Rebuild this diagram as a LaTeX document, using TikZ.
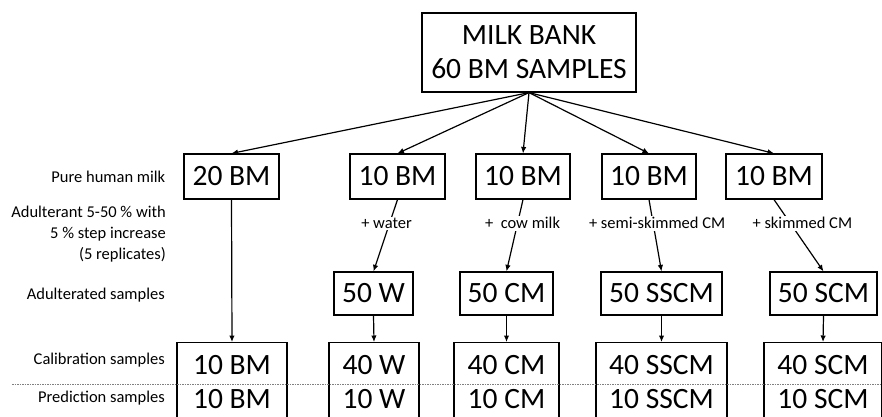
\documentclass[tikz,border=0pt]{standalone}
\usepackage{fontspec}
\setmainfont{Carlito}
\usetikzlibrary{positioning, arrows.meta}
\tikzset{%
  box/.style={draw, line width=1.2pt, inner sep=0pt, align=center,
    font=\fontsize{29.5}{35}\selectfont}, % the sample boxes
  rowlbl/.style={anchor=east, inner sep=0pt, align=right,
    font=\fontsize{16.5}{21}\selectfont},
  addlbl/.style={fill=white, inner sep=1.5pt, font=\fontsize{16.5}{20}\selectfont},
  arr/.style={-{Latex[length=6.5pt,width=5.5pt]}, line width=1.2pt},
  sepline/.style={draw=gray, line width=0.6pt, dash pattern=on 1.5pt off 1pt}
}

\begin{document}
\begin{tikzpicture}[x=1pt, y=-1pt]
\useasboundingbox (0,0) rectangle (882,416);
\clip (0,0) rectangle (882,416);

% milk bank
\node[box, minimum width=214pt, minimum height=79pt, font=\fontsize{29.5}{34}\selectfont] (bank) at (529,52.5) {MILK BANK\\60 BM SAMPLES};

% pure milk
\node[box, minimum width=95pt, minimum height=45pt] (b1) at (231.5,176.5) {20 BM};
\node[box, minimum width=95pt, minimum height=45pt] (b2) at (397.5,176.5) {10 BM};
\node[box, minimum width=94pt, minimum height=45pt] (b3) at (523,176.5) {10 BM};
\node[box, minimum width=94pt, minimum height=45pt] (b4) at (649,176.5) {10 BM};
\node[box, minimum width=96pt, minimum height=45pt] (b5) at (774,176.5) {10 BM};

% adulterated
\node[box, minimum width=79pt, minimum height=43pt] (c2) at (373.5,293.5) {50 W};
\node[box, minimum width=93pt, minimum height=43pt] (c3) at (506.5,293.5) {50 CM};
\node[box, minimum width=121pt, minimum height=43pt] (c4) at (661.5,293.5) {50 SSCM};
\node[box, minimum width=107pt, minimum height=43pt] (c5) at (823.5,293.5) {50 SCM};

% calibration / prediction
\node[box, anchor=north, minimum width=110pt, minimum height=78pt, font=\fontsize{29.5}{34}\selectfont] (d1) at (232,342) {10 BM\\10 BM};
\node[box, anchor=north, minimum width=90pt, minimum height=78pt, font=\fontsize{29.5}{34}\selectfont] (d2) at (374,342) {40 W\\10 W};
\node[box, anchor=north, minimum width=105pt, minimum height=78pt, font=\fontsize{29.5}{34}\selectfont] (d3) at (506.5,342) {40 CM\\10 CM};
\node[box, anchor=north, minimum width=131pt, minimum height=78pt, font=\fontsize{29.5}{34}\selectfont] (d4) at (661.5,342) {40 SSCM\\10 SSCM};
\node[box, anchor=north, minimum width=118pt, minimum height=78pt, font=\fontsize{29.5}{34}\selectfont] (d5) at (823,342) {40 SCM\\10 SCM};

% row labels
\node[rowlbl, left=18pt of b1] (l0) {Pure human milk};
\node[rowlbl] (l1) at (166,234) {Adulterant 5-50 \% with\\5 \% step increase\\(5 replicates)};
\node[rowlbl] (l2) at (165,295) {Adulterated samples};
\node[rowlbl] (l3) at (165,360) {Calibration samples};
\node[rowlbl] (l4) at (165,398) {Prediction samples};

\coordinate (sepL) at (12,384);
\coordinate (sepR) at (882,384);
\draw[sepline] (sepL) -- (sepR);

\foreach \n in {b1,b2,b3,b4,b5}
  \draw[arr] (bank.south) -- (\n.north);

\draw[arr] (b2.south) -- node[addlbl, pos=0.33, xshift=-3pt] {+ water} (c2.north);
\draw[arr] (b3.south) -- node[addlbl, pos=0.33, xshift=5pt] {+\ \ cow milk} (c3.north);
\draw[arr] (b4.south) -- node[addlbl, pos=0.33, xshift=4pt] {+ semi-skimmed CM} (c4.north);
\draw[arr] (b5.south) -- node[addlbl, pos=0.33, xshift=12pt] {+ skimmed CM} (c5.north);

\draw[arr] (b1.south) -- (d1.north);
\foreach \i in {2,3,4,5}
  \draw[arr] (c\i.south) -- (d\i.north);

\end{tikzpicture}
\end{document}
